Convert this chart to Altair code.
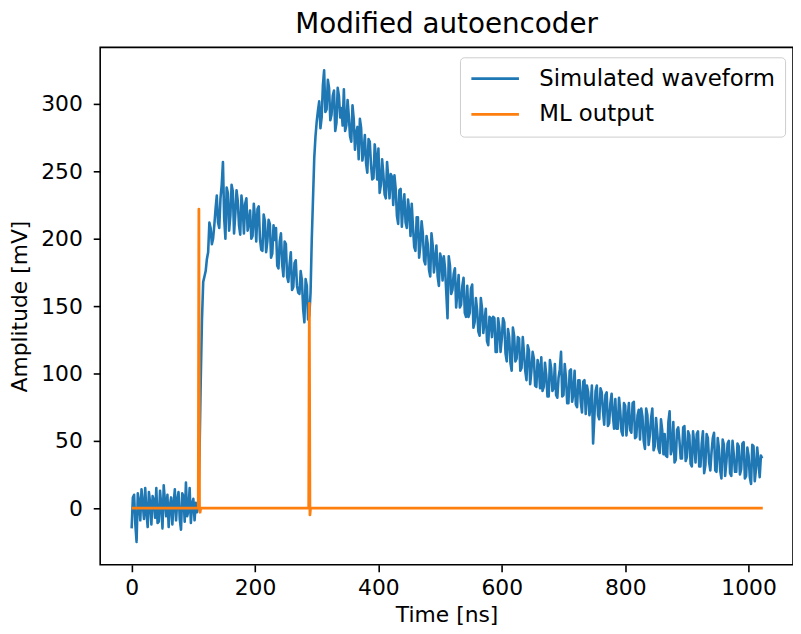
import altair as alt
import pandas as pd

# Simulated waveform (mV)
# samples at t = 0, 4, 8, ... ns
WAVE = [
    # 0 .. 104 ns : baseline
    -15, 10, -25, 5, 14, -8, -3, 12, -12, 6, 15, -10, 2, 17, -6, -14,
    8, 3, -9, 12, -16, 9, 19, -2, -11, 7, 4,
    # 108 .. 148 ns : first rise
    2, 95, 168, 176, 190, 208, 200, 222, 212, 230, 257,
    # 152 .. 288 ns : first decay
    200, 234, 217, 235, 218, 228, 203, 223, 226, 206,
    221, 202, 215, 222, 200, 191, 213, 198, 211, 189,
    199, 180, 198, 181, 198, 172, 181, 162, 182, 165,
    159, 169, 138, 165, 143,
    # 292 .. 300 ns : second rise
    200, 260, 287,
    # 304 .. 1020 ns : second pulse and decay
    302, 290, 325, 296, 312, 292, 310, 286, 306, 297,
    311, 284, 291, 272, 289, 278, 259, 282, 265, 256,
    274, 255, 245, 261, 267, 240, 248, 230, 245, 248,
    225, 237, 211, 237, 224, 212, 229, 202, 209, 191,
    216, 195, 204, 181, 196, 172, 195, 185, 172, 189,
    169, 178, 141, 180, 162, 178, 161, 149, 165, 145,
    165, 145, 166, 138, 147, 128, 148, 139, 124, 142,
    127, 141, 116, 134, 126, 138, 109, 127, 102, 128,
    111, 126, 104, 115, 95, 117, 102, 111, 90, 105,
    112, 90, 99, 83, 104, 89, 84, 97, 116, 84,
    97, 78, 103, 85, 77, 95, 79, 94, 70, 86,
    76, 48, 87, 69, 89, 72, 84, 61, 78, 69,
    81, 59, 72, 54, 76, 67, 58, 78, 52, 69,
    51, 68, 44, 69, 54, 74, 46, 56, 41, 58,
    55, 38, 72, 44, 34, 58, 50, 37, 61, 38,
    54, 31, 48, 55, 31, 48, 26, 55, 34, 42,
    56, 27, 44, 22, 47, 34, 50, 24, 40, 27,
    46, 29, 49, 24, 39, 18, 46, 29, 35, 39,
]
# samples at t = 2, 6, 10, ... ns
WAVE_MID = [
    # 2 .. 106 ns
    8, -12, 11, -9, 3, 15, -14, 4, 9, -7, -11, 13, -15, 5, 10, 2,
    -12, 14, 6, -8, 11, -10, -6, 15, 3, -9, -3,
    # 110 .. 150 ns
    40, 140, 172, 185, 212, 196, 210, 232, 208, 240, 215,
    # 154 .. 290 ns
    238, 206, 240, 204, 236, 210, 232, 204, 230, 212,
    200, 226, 198, 224, 192, 218, 190, 214, 186, 210,
    208, 178, 204, 172, 196, 168, 190, 164, 184, 160,
    176, 148, 170, 140, 160,
    # 294 .. 302 ns
    230, 276, 295,
    # 306 .. 1022 ns
    282, 314, 294, 318, 288, 306, 280, 312, 290, 284,
    280, 303, 276, 299, 266, 283, 289, 258, 277, 249,
    272, 244, 270, 244, 234, 259, 233, 257, 230, 246,
    247, 217, 236, 209, 233, 208, 220, 226, 194, 216,
    186, 213, 184, 202, 177, 204, 175, 195, 165, 185,
    187, 160, 187, 159, 174, 149, 173, 151, 171, 142,
    142, 163, 134, 156, 131, 156, 130, 148, 121, 141,
    142, 116, 141, 116, 141, 115, 133, 108, 134, 109,
    127, 102, 127, 102, 121, 92, 116, 91, 110, 89,
    87, 108, 83, 110, 87, 107, 82, 103, 83, 107,
    78, 102, 79, 102, 75, 95, 71, 95, 91, 69,
    91, 67, 91, 66, 86, 62, 86, 63, 85, 59,
    59, 82, 57, 78, 54, 78, 56, 79, 53, 73,
    74, 50, 74, 47, 67, 43, 67, 44, 66, 40,
    39, 64, 40, 64, 36, 60, 37, 60, 35, 57,
    33, 57, 34, 57, 31, 57, 32, 52, 28, 52,
    28, 52, 28, 51, 24, 48, 26, 50, 27, 48,
    25, 48, 22, 45, 23, 47, 20, 45, 23, 37,
]
TIME = list(range(0, 4 * len(WAVE), 4))
TIME_MID = list(range(2, 4 * len(WAVE_MID), 4))

# ML output (mostly zero, with two narrow spikes)
ML_TIME = [0, 108, 109, 110, 111, 112, 287, 288, 289, 290, 1023]
ML_VALUE = [0, 0, 222, 0, -3, 0, 0, 152, -5, 0, 0]

SERIES = ["Simulated waveform", "ML output"]
COLORS = ["#1f77b4", "#ff7f0e"]

df_wave = pd.concat(
    [
        pd.DataFrame({"t": TIME, "v": WAVE}),
        pd.DataFrame({"t": TIME_MID, "v": WAVE_MID}),
    ]
).sort_values("t").reset_index(drop=True)
df_wave["series"] = SERIES[0]
df_ml = pd.DataFrame({"t": ML_TIME, "v": ML_VALUE, "series": SERIES[1]})

FONT = "DejaVu Sans"

x_enc = alt.X(
    "t:Q",
    scale=alt.Scale(domain=[-51, 1072], nice=False, zero=False),
    axis=alt.Axis(values=[0, 200, 400, 600, 800, 1000], format="d", title="Time [ns]"),
)
y_enc = alt.Y(
    "v:Q",
    scale=alt.Scale(domain=[-42, 342], nice=False, zero=False),
    axis=alt.Axis(values=[0, 50, 100, 150, 200, 250, 300], format="d", title="Amplitude [mV]"),
)
color_enc = alt.Color(
    "series:N",
    scale=alt.Scale(domain=SERIES, range=COLORS),
    legend=alt.Legend(
        title=None,
        orient="none",
        legendX=363,
        legendY=10,
        symbolType="stroke",
        symbolSize=2304,
        symbolStrokeWidth=2.8,
        clipHeight=23,
        labelFontSize=23,
        labelFont=FONT,
        labelColor="black",
        labelLimit=500,
        labelOffset=19,
        rowPadding=12,
        padding=10,
        strokeColor="#cccccc",
        fillColor="rgba(255,255,255,0.8)",
        cornerRadius=4,
    ),
    sort=SERIES,
)

blue = alt.Chart(df_wave).mark_line(strokeWidth=2.6, strokeJoin="round").encode(
    x=x_enc, y=y_enc, color=color_enc, order="t:Q"
)
orange = alt.Chart(df_ml).mark_line(strokeWidth=2.8, strokeJoin="round").encode(
    x=x_enc, y=y_enc, color=color_enc, order="t:Q"
)

chart = (
    alt.layer(blue, orange)
    .properties(
        width=699,
        height=522,
        title=alt.TitleParams(
            "Modified autoencoder", fontSize=28, font=FONT, fontWeight="normal",
            anchor="middle", offset=9, color="black",
        ),
        autosize=alt.AutoSizeParams(type="none"),
        padding={"left": 93, "top": 37, "right": 0, "bottom": 59},
    )
    .configure_view(stroke="black", strokeWidth=1.6)
    .configure_axis(
        domain=False,
        grid=False,
        ticks=True,
        tickColor="black",
        tickWidth=1.6,
        tickSize=7,
        labelFont=FONT,
        labelFontSize=22,
        labelColor="black",
        titleFont=FONT,
        titleFontSize=22,
        titleFontWeight="normal",
        titleColor="black",
    )
    .configure_axisX(labelPadding=6, titlePadding=6)
    .configure_axisY(labelPadding=11, titlePadding=9)
)

chart.save("out.html", embed_options={"renderer": "svg", "actions": False})
